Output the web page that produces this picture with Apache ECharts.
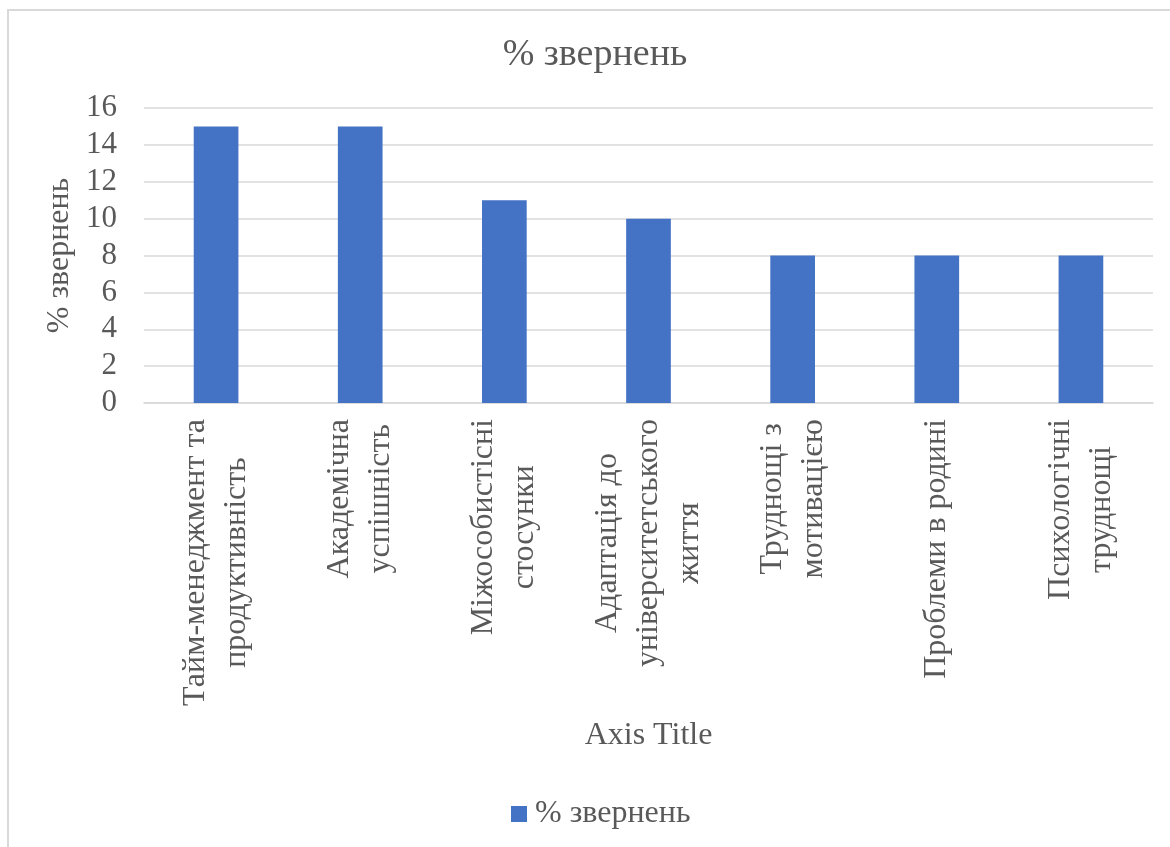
<!DOCTYPE html>
<html>
<head>
<meta charset="utf-8">
<script src="https://cdn.jsdelivr.net/npm/echarts@6/dist/echarts.min.js"></script>
<style>
  html, body { margin: 0; padding: 0; background: #ffffff; }
  #chart { width: 1170px; height: 847px; }
</style>
</head>
<body>
<div id="chart"></div>
<script>
// Categories (line breaks as they wrap under the axis)
const categories = [
  'Тайм-менеджмент та\nпродуктивність',
  'Академічна\nуспішність',
  'Міжособистісні\nстосунки',
  'Адаптація до\nуніверситетського\nжиття',
  'Труднощі з\nмотивацією',
  'Проблеми в родині',
  'Психологічні\nтруднощі'
];
const seriesName = '% звернень';
const values = [15, 15, 11, 10, 8, 8, 8];
const yTicks = { min: 0, max: 16, interval: 2 };

const FONT = '"Liberation Serif", "Times New Roman", serif';
const TEXT = '#595959';
const GRID = '#d9d9d9';
const BAR = '#4472c4';
const FS = 32;

const chart = echarts.init(document.getElementById('chart'), null, { renderer: 'canvas' });

chart.setOption({
  backgroundColor: '#ffffff',
  animation: false,
  textStyle: { fontFamily: FONT, color: TEXT },
  graphic: [{
    // chart frame
    type: 'rect',
    shape: { x: 8, y: 10, width: 1200, height: 900 },
    style: { fill: 'none', stroke: GRID, lineWidth: 2 },
    z: -1
  }, {
    // chart title
    type: 'text',
    x: 595,
    y: 55,
    style: {
      text: seriesName,
      font: '38px ' + FONT,
      fill: TEXT,
      textAlign: 'center',
      textVerticalAlign: 'middle'
    }
  }],
  legend: {
    data: [seriesName],
    left: 506,
    top: 793,
    icon: 'rect',
    itemWidth: 16,
    itemHeight: 16,
    itemGap: 8,
    textStyle: { fontFamily: FONT, color: TEXT, fontSize: FS, padding: [0, 0, 0, 3] }
  },
  grid: { left: 144, right: 17, top: 108, bottom: 444, containLabel: false },
  xAxis: {
    type: 'category',
    data: categories,
    name: 'Axis Title',
    nameLocation: 'middle',
    nameGap: 317,
    nameTextStyle: { fontFamily: FONT, color: TEXT, fontSize: FS },
    axisLine: { show: true, lineStyle: { color: GRID, width: 1.5 } },
    axisTick: { show: false },
    axisLabel: {
      interval: 0,
      rotate: 90,
      margin: 16,
      fontFamily: FONT,
      color: TEXT,
      fontSize: FS,
      lineHeight: 41,
      formatter: function (v) {
        return v.split('\n').map(function (s) { return '{c|' + s + '}'; }).join('\n');
      },
      rich: {
        c: { align: 'center', fontFamily: FONT, color: TEXT, fontSize: FS, lineHeight: 41 }
      }
    }
  },
  yAxis: {
    type: 'value',
    min: yTicks.min,
    max: yTicks.max,
    interval: yTicks.interval,
    name: seriesName,
    nameLocation: 'middle',
    nameRotate: 90,
    nameGap: 65,
    nameTextStyle: { fontFamily: FONT, color: TEXT, fontSize: FS },
    axisLine: { show: false },
    axisTick: { show: false },
    axisLabel: { margin: 27, fontFamily: FONT, color: TEXT, fontSize: 31 },
    splitLine: { show: true, lineStyle: { color: GRID, width: 1.5 } }
  },
  series: [{
    name: seriesName,
    type: 'bar',
    data: values,
    barWidth: '31%',
    itemStyle: { color: BAR }
  }]
});
</script>
</body>
</html>
